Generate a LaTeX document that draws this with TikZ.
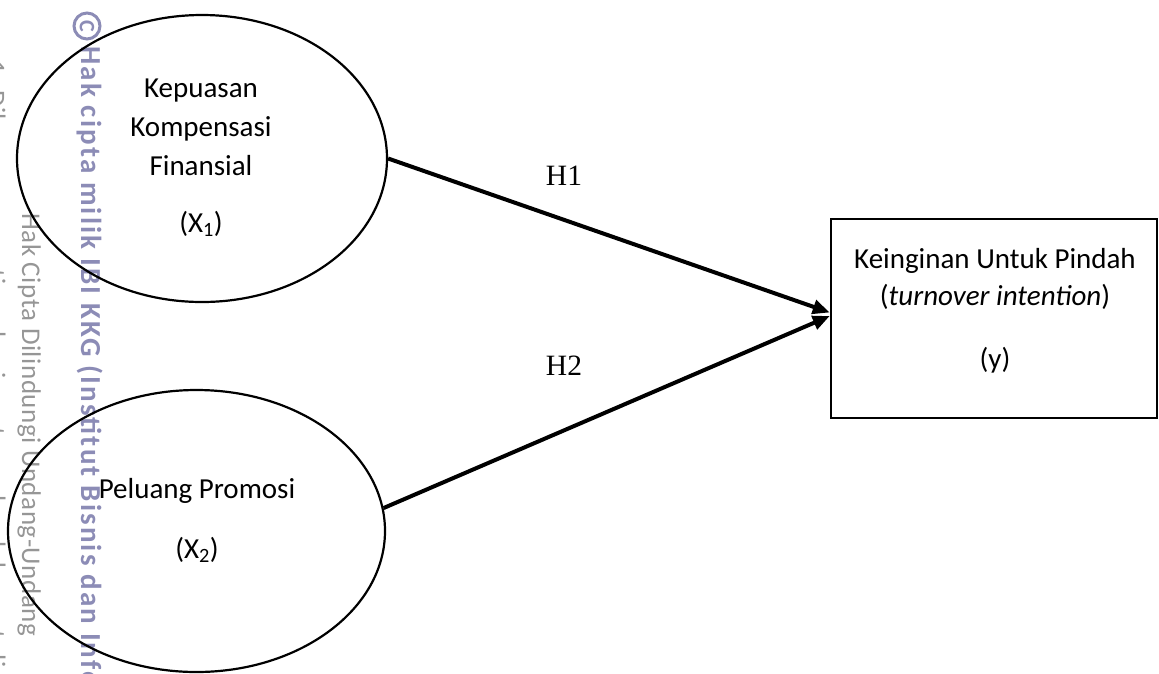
\documentclass[tikz,border=0pt]{standalone}
\usepackage{fontspec}
\setmainfont{Carlito}
\newfontfamily\timesf{Liberation Serif}
\newfontfamily\wmboldfont[LetterSpace=7.5]{Carlito}
\newfontfamily\wmgrayfont[LetterSpace=2]{Carlito}
\usetikzlibrary{shapes.geometric,arrows.meta}
\definecolor{wmblue}{RGB}{140,140,182}
\definecolor{wmgray}{RGB}{150,150,150}
\begin{document}
\begin{tikzpicture}[x=1pt,y=-1pt,
  lbl/.style={font=\fontsize{29}{35}\selectfont, anchor=base, inner sep=0pt},
  hyp/.style={font=\timesf\fontsize{29.5}{35}\selectfont, anchor=base, inner sep=0pt},
  oval/.style={ellipse, draw, line width=2.2pt, inner sep=0pt},
  conn/.style={line width=4pt, -{Triangle[length=17pt,width=14pt]}},
  wmb/.style={font=\wmboldfont\bfseries\fontsize{29}{35}\selectfont, text=wmblue, rotate=-90, anchor=base west, inner sep=0pt},
  wmg/.style={font=\wmgrayfont\fontsize{27}{32}\selectfont, text=wmgray, rotate=-90, anchor=base west, inner sep=0pt},
]
\useasboundingbox (0,0) rectangle (1159,673);
% watermark
\node[circle, draw=wmblue, line width=3pt, minimum size=26pt, inner sep=0pt,
      font=\bfseries\fontsize{22}{22}\selectfont, text=wmblue, rotate=-90] (wmc) at (87,26) {C};
\node[wmb] (wm1) at (81,46) {Hak cipta milik IBI KKG (Institut Bisnis dan Informatika Kwik Kian Gie)};
\node[wmg] (wm2) at (22,213) {Hak Cipta Dilindungi Undang-Undang};
\node[wmg] (wm3) at (-13,60) {1. Dilarang mengutip sebagian atau seluruh karya tulis ini tanpa mencantumkan dan menyebutkan sumber.};
% shapes
\node[oval, minimum width=370pt, minimum height=287pt] (e1) at (202,158.5) {};
\node[oval, minimum width=377pt, minimum height=282pt] (e2) at (196.5,531) {};
\node[draw, line width=2.5pt, minimum width=326pt, minimum height=199pt, inner sep=0pt] (yb) at (994,318.5) {};
% texts
\node[lbl] (t1a) at (201,97) {Kepuasan};
\node[lbl] (t1b) at (201,136) {Kompensasi};
\node[lbl] (t1c) at (201,175) {Finansial};
\node[lbl] (t1d) at (201,232) {(X\textsubscript{1})};
\node[lbl] (t2a) at (197,498) {Peluang Promosi};
\node[lbl] (t2b) at (197,558) {(X\textsubscript{2})};
\node[lbl] (t3a) at (995,268) {Keinginan Untuk Pindah};
\node[lbl] (t3b) at (995,305) {(\textit{turnover intention})};
\node[lbl] (t3c) at (995,368) {(y)};
% connectors
\draw[conn] (e1.east) -- ([yshift=6pt]yb.west);
\draw[conn] (e2.7) -- ([yshift=2.5pt]yb.west);
\node[hyp] (h1) at (564,185) {H1};
\node[hyp] (h2) at (564,375) {H2};
\end{tikzpicture}
\end{document}
